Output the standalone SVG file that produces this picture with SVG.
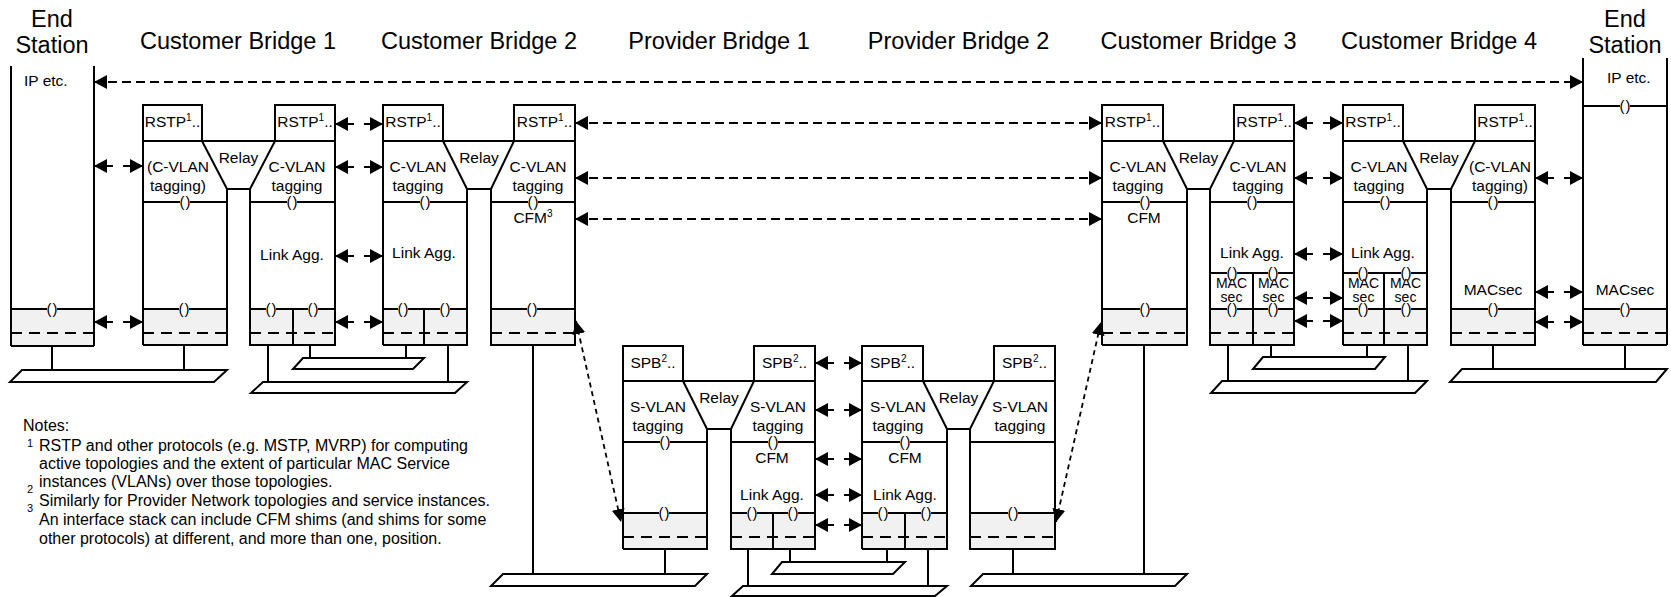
<svg xmlns="http://www.w3.org/2000/svg" xmlns:xlink="http://www.w3.org/1999/xlink" width="1671" height="597" viewBox="0 0 1671 597">
<style>
text{font-family:"Liberation Sans",Arial,sans-serif;fill:#000}
.h{font-size:23.5px;text-anchor:middle}
.t{font-size:15.5px;text-anchor:middle}
.m{font-size:14px;text-anchor:middle}
.ts{font-size:15.5px;text-anchor:start}
.n{font-size:16px}
.ns{font-size:11px}
.sup{font-size:10px}
.o{fill:none;stroke:#000;stroke-width:2}
.sh{fill:#f1f1f1;stroke:none}
.dl{fill:none;stroke:#000;stroke-width:2;stroke-dasharray:11 7}
.lan{fill:#fff;stroke:#000;stroke-width:2}
.st{stroke:#000;stroke-width:2;fill:none}
.a{fill:none;stroke:#000;stroke-width:2;marker-start:url(#ah);marker-end:url(#ah)}
.sa{stroke-dasharray:19 10}
.la{stroke-dasharray:9 5}
.da{fill:none;stroke:#000;stroke-width:1.8;stroke-dasharray:5 4;marker-start:url(#ahs);marker-end:url(#ahs)}
</style>
<defs>
<marker id="ah" markerUnits="userSpaceOnUse" markerWidth="14" markerHeight="14" refX="13" refY="7" orient="auto-start-reverse" viewBox="0 0 14 14"><path d="M0,0 L13,7 L0,14 z" fill="#000"/></marker>
<marker id="ahs" markerUnits="userSpaceOnUse" markerWidth="14" markerHeight="14" refX="13" refY="7" orient="auto-start-reverse" viewBox="0 0 14 14"><path d="M0,0.5 L13,7 L0,13.5 z" fill="#000"/></marker>
<g id="shim"><rect x="-5" y="-1.5" width="10" height="7.5" fill="#fff"/><text x="0.4" y="4.8" font-family="Liberation Sans, Arial, sans-serif" font-size="15" letter-spacing="0.8" text-anchor="middle">()</text></g>
</defs>
<rect width="1671" height="597" fill="#fff"/>

<g id="lans">
<path class="st" d="M52,346 V370 M184,345 V370 M268,345 V382 M310,345 V358 M406,345 V358 M448,345 V382 M533,345 V574 M665,549 V574 M748,549 V586 M790,549 V562 M887,549 V562 M928,549 V586 M1013,549 V574 M1144,345 V574 M1228,345 V381 M1271,345 V357 M1367,345 V357 M1408,345 V381 M1493,345 V369 M1625,345 V369"/>
<polygon class="lan" points="22,370 227,370 214,382 10,382"/>
<polygon class="lan" points="303,358 424,358 413,369 293,369"/>
<polygon class="lan" points="263,382 467,382 455,393 251,393"/>
<polygon class="lan" points="503,574 707,574 695,586 491,586"/>
<polygon class="lan" points="782,562 905,562 893,574 772,574"/>
<polygon class="lan" points="743,586 947,586 935,596 732,596"/>
<polygon class="lan" points="983,574 1187,574 1175,586 971,586"/>
<polygon class="lan" points="1263,357 1385,357 1375,369 1253,369"/>
<polygon class="lan" points="1222,381 1427,381 1415,393 1211,393"/>
<polygon class="lan" points="1462,369 1667,369 1656,382 1450,382"/>
</g>

<g id="es-left">
<text class="h" x="52" y="27">End</text>
<text class="h" x="52" y="53">Station</text>
<rect class="sh" x="11" y="309" width="83" height="37"/>
<path class="o" d="M11,66 V346 M94,66 V346 M11,346 H94 M11,309 H94"/>
<path class="dl" d="M11,333 H94"/>
<text class="ts" x="24" y="86">IP etc.</text>
<use href="#shim" x="52" y="309"/>
</g>

<g id="cb1">
<text class="h" x="238" y="49">Customer Bridge 1</text>
<rect class="sh" x="143" y="309" width="84" height="36"/>
<rect class="sh" x="250" y="309" width="85" height="36"/>
<path class="o" d="M143,345 V105 H202 V141 M143,141 H335 M202,141 L227,189 H250 L275,141 V105 H335 V345 H250 V189 M227,189 V345 H143 M143,202 H227 M250,202 H335 M143,309 H227 M250,309 H335 M293,309 V345"/>
<path class="dl" d="M143,333 H227 M250,333 H335"/>
<text class="t" x="172.5" y="127">RSTP<tspan class="sup" dy="-6">1</tspan><tspan dy="6">..</tspan></text>
<text class="t" x="305" y="127">RSTP<tspan class="sup" dy="-6">1</tspan><tspan dy="6">..</tspan></text>
<text class="t" x="178" y="172">(C-VLAN</text>
<text class="t" x="178" y="191">tagging)</text>
<text class="t" x="238.5" y="163">Relay</text>
<text class="t" x="297" y="172">C-VLAN</text>
<text class="t" x="297" y="191">tagging</text>
<text class="t" x="292" y="260">Link Agg.</text>
<use href="#shim" x="185" y="202"/>
<use href="#shim" x="292" y="202"/>
<use href="#shim" x="184" y="309"/>
<use href="#shim" x="271" y="309"/>
<use href="#shim" x="313" y="309"/>
</g>

<g id="cb2">
<text class="h" x="479" y="49">Customer Bridge 2</text>
<rect class="sh" x="383" y="309" width="84" height="36"/>
<rect class="sh" x="491" y="309" width="84" height="36"/>
<path class="o" d="M383,345 V105 H443 V141 M383,141 H575 M443,141 L467,189 H491 L514,141 V105 H575 V345 H491 V189 M467,189 V345 H383 M383,202 H467 M491,202 H575 M383,309 H467 M491,309 H575 M424,309 V345"/>
<path class="dl" d="M383,333 H467 M491,333 H575"/>
<text class="t" x="413" y="127">RSTP<tspan class="sup" dy="-6">1</tspan><tspan dy="6">..</tspan></text>
<text class="t" x="544.5" y="127">RSTP<tspan class="sup" dy="-6">1</tspan><tspan dy="6">..</tspan></text>
<text class="t" x="418" y="172">C-VLAN</text>
<text class="t" x="418" y="191">tagging</text>
<text class="t" x="479" y="163">Relay</text>
<text class="t" x="538" y="172">C-VLAN</text>
<text class="t" x="538" y="191">tagging</text>
<text class="t" x="424" y="258">Link Agg.</text>
<text class="t" x="533" y="223">CFM<tspan class="sup" dy="-6">3</tspan></text>
<use href="#shim" x="425" y="202"/>
<use href="#shim" x="533" y="202"/>
<use href="#shim" x="403" y="309"/>
<use href="#shim" x="445" y="309"/>
<use href="#shim" x="532" y="309"/>
</g>

<g id="pb1">
<text class="h" x="719" y="49">Provider Bridge 1</text>
<rect class="sh" x="623" y="513" width="84" height="36"/>
<rect class="sh" x="731" y="513" width="84" height="36"/>
<path class="o" d="M623,549 V346 H683 V381 M623,381 H815 M683,381 L707,429 H731 L754,381 V346 H815 V549 H731 V429 M707,429 V549 H623 M623,442 H707 M731,442 H815 M623,513 H707 M731,513 H815 M773,513 V549"/>
<path class="dl" d="M623,537 H707 M731,537 H815"/>
<text class="t" x="653" y="368">SPB<tspan class="sup" dy="-6">2</tspan><tspan dy="6">..</tspan></text>
<text class="t" x="784.5" y="368">SPB<tspan class="sup" dy="-6">2</tspan><tspan dy="6">..</tspan></text>
<text class="t" x="658" y="412">S-VLAN</text>
<text class="t" x="658" y="431">tagging</text>
<text class="t" x="719" y="403">Relay</text>
<text class="t" x="778" y="412">S-VLAN</text>
<text class="t" x="778" y="431">tagging</text>
<text class="t" x="772" y="463">CFM</text>
<text class="t" x="772" y="500">Link Agg.</text>
<use href="#shim" x="665" y="442"/>
<use href="#shim" x="773" y="442"/>
<use href="#shim" x="664" y="513"/>
<use href="#shim" x="752" y="513"/>
<use href="#shim" x="793" y="513"/>
</g>

<g id="pb2">
<text class="h" x="958.5" y="49">Provider Bridge 2</text>
<rect class="sh" x="862" y="513" width="85" height="36"/>
<rect class="sh" x="970" y="513" width="85" height="36"/>
<path class="o" d="M862,549 V346 H923 V381 M862,381 H1055 M923,381 L947,429 H970 L994,381 V346 H1055 V549 H970 V429 M947,429 V549 H862 M862,442 H947 M970,442 H1055 M862,513 H947 M970,513 H1055 M905,513 V549"/>
<path class="dl" d="M862,537 H947 M970,537 H1055"/>
<text class="t" x="892.5" y="368">SPB<tspan class="sup" dy="-6">2</tspan><tspan dy="6">..</tspan></text>
<text class="t" x="1024.5" y="368">SPB<tspan class="sup" dy="-6">2</tspan><tspan dy="6">..</tspan></text>
<text class="t" x="898" y="412">S-VLAN</text>
<text class="t" x="898" y="431">tagging</text>
<text class="t" x="958.5" y="403">Relay</text>
<text class="t" x="1020" y="412">S-VLAN</text>
<text class="t" x="1020" y="431">tagging</text>
<text class="t" x="905" y="463">CFM</text>
<text class="t" x="905" y="500">Link Agg.</text>
<use href="#shim" x="905" y="442"/>
<use href="#shim" x="883" y="513"/>
<use href="#shim" x="926" y="513"/>
<use href="#shim" x="1013" y="513"/>
</g>

<g id="cb3">
<text class="h" x="1198.5" y="49">Customer Bridge 3</text>
<rect class="sh" x="1102" y="309" width="85" height="36"/>
<rect class="sh" x="1210" y="309" width="84" height="36"/>
<path class="o" d="M1102,345 V105 H1163 V141 M1102,141 H1294 M1163,141 L1187,189 H1210 L1234,141 V105 H1294 V345 H1210 V189 M1187,189 V345 H1102 M1102,202 H1187 M1210,202 H1294 M1102,309 H1187 M1210,309 H1294 M1210,273 H1294 M1253,273 V345"/>
<path class="dl" d="M1102,333 H1187 M1210,333 H1294"/>
<text class="t" x="1132.5" y="127">RSTP<tspan class="sup" dy="-6">1</tspan><tspan dy="6">..</tspan></text>
<text class="t" x="1264" y="127">RSTP<tspan class="sup" dy="-6">1</tspan><tspan dy="6">..</tspan></text>
<text class="t" x="1138" y="172">C-VLAN</text>
<text class="t" x="1138" y="191">tagging</text>
<text class="t" x="1198.5" y="163">Relay</text>
<text class="t" x="1258" y="172">C-VLAN</text>
<text class="t" x="1258" y="191">tagging</text>
<text class="t" x="1144" y="223">CFM</text>
<text class="t" x="1252" y="258">Link Agg.</text>
<text class="m" x="1231.5" y="288">MAC</text>
<text class="m" x="1231.5" y="302">sec</text>
<text class="m" x="1273.5" y="288">MAC</text>
<text class="m" x="1273.5" y="302">sec</text>
<use href="#shim" x="1145" y="202"/>
<use href="#shim" x="1252" y="202"/>
<use href="#shim" x="1145" y="309"/>
<use href="#shim" x="1232" y="273"/>
<use href="#shim" x="1273" y="273"/>
<use href="#shim" x="1232" y="309"/>
<use href="#shim" x="1273" y="309"/>
</g>

<g id="cb4">
<text class="h" x="1439" y="49">Customer Bridge 4</text>
<rect class="sh" x="1343" y="309" width="84" height="36"/>
<rect class="sh" x="1451" y="309" width="84" height="36"/>
<path class="o" d="M1343,345 V105 H1403 V141 M1343,141 H1535 M1403,141 L1427,189 H1451 L1475,141 V105 H1535 V345 H1451 V189 M1427,189 V345 H1343 M1343,202 H1427 M1451,202 H1535 M1343,309 H1427 M1451,309 H1535 M1343,273 H1427 M1384,273 V345"/>
<path class="dl" d="M1343,333 H1427 M1451,333 H1535"/>
<text class="t" x="1373" y="127">RSTP<tspan class="sup" dy="-6">1</tspan><tspan dy="6">..</tspan></text>
<text class="t" x="1505" y="127">RSTP<tspan class="sup" dy="-6">1</tspan><tspan dy="6">..</tspan></text>
<text class="t" x="1379" y="172">C-VLAN</text>
<text class="t" x="1379" y="191">tagging</text>
<text class="t" x="1439" y="163">Relay</text>
<text class="t" x="1500" y="172">(C-VLAN</text>
<text class="t" x="1500" y="191">tagging)</text>
<text class="t" x="1383" y="258">Link Agg.</text>
<text class="m" x="1363.5" y="288">MAC</text>
<text class="m" x="1363.5" y="302">sec</text>
<text class="m" x="1405.5" y="288">MAC</text>
<text class="m" x="1405.5" y="302">sec</text>
<text class="t" x="1493" y="295">MACsec</text>
<use href="#shim" x="1385" y="202"/>
<use href="#shim" x="1493" y="202"/>
<use href="#shim" x="1363" y="273"/>
<use href="#shim" x="1406" y="273"/>
<use href="#shim" x="1363" y="309"/>
<use href="#shim" x="1406" y="309"/>
<use href="#shim" x="1493" y="309"/>
</g>

<g id="es-right">
<text class="h" x="1625" y="27">End</text>
<text class="h" x="1625" y="53">Station</text>
<rect class="sh" x="1583" y="309" width="84" height="36"/>
<path class="o" d="M1583,58 V345 M1667,58 V345 M1583,345 H1667 M1583,106 H1667 M1583,309 H1667"/>
<path class="dl" d="M1583,333 H1667"/>
<text class="ts" x="1607" y="83">IP etc.</text>
<text class="t" x="1625" y="295">MACsec</text>
<use href="#shim" x="1625" y="106"/>
<use href="#shim" x="1625" y="309"/>
</g>

<g id="connectors">
<line class="a la" x1="94" y1="82" x2="1583" y2="82"/>
<line class="a sa" x1="94" y1="166" x2="143" y2="166"/>
<line class="a sa" x1="94" y1="322" x2="143" y2="322"/>
<line class="a sa" x1="335" y1="124" x2="383" y2="124"/>
<line class="a sa" x1="335" y1="167" x2="383" y2="167"/>
<line class="a sa" x1="335" y1="256" x2="383" y2="256"/>
<line class="a sa" x1="335" y1="322" x2="383" y2="322"/>
<line class="a la" x1="575" y1="123" x2="1102" y2="123"/>
<line class="a la" x1="575" y1="178" x2="1102" y2="178"/>
<line class="a la" x1="575" y1="219" x2="1102" y2="219"/>
<line class="da" x1="576" y1="321" x2="621" y2="522"/>
<line class="da" x1="1056" y1="522" x2="1101" y2="322"/>
<line class="a sa" x1="815" y1="363" x2="862" y2="363"/>
<line class="a sa" x1="815" y1="410" x2="862" y2="410"/>
<line class="a sa" x1="815" y1="459" x2="862" y2="459"/>
<line class="a sa" x1="815" y1="495" x2="862" y2="495"/>
<line class="a sa" x1="815" y1="525" x2="862" y2="525"/>
<line class="a sa" x1="1294" y1="123" x2="1343" y2="123"/>
<line class="a sa" x1="1294" y1="178" x2="1343" y2="178"/>
<line class="a sa" x1="1294" y1="254" x2="1343" y2="254"/>
<line class="a sa" x1="1294" y1="298" x2="1343" y2="298"/>
<line class="a sa" x1="1294" y1="321" x2="1343" y2="321"/>
<line class="a sa" x1="1535" y1="178" x2="1583" y2="178"/>
<line class="a sa" x1="1535" y1="292" x2="1583" y2="292"/>
<line class="a sa" x1="1535" y1="322" x2="1583" y2="322"/>
</g>

<g id="notes">
<text class="n" x="23" y="431">Notes:</text>
<text class="ns" x="27" y="447">1</text>
<text class="n" x="39" y="451">RSTP and other protocols (e.g. MSTP, MVRP) for computing</text>
<text class="n" x="39" y="469">active topologies and the extent of particular MAC Service</text>
<text class="n" x="39" y="487">instances (VLANs) over those topologies.</text>
<text class="ns" x="27" y="493">2</text>
<text class="n" x="39" y="506">Similarly for Provider Network topologies and service instances.</text>
<text class="ns" x="27" y="512">3</text>
<text class="n" x="39" y="525">An interface stack can include CFM shims (and shims for some</text>
<text class="n" x="39" y="544">other protocols) at different, and more than one, position.</text>
</g>
</svg>
